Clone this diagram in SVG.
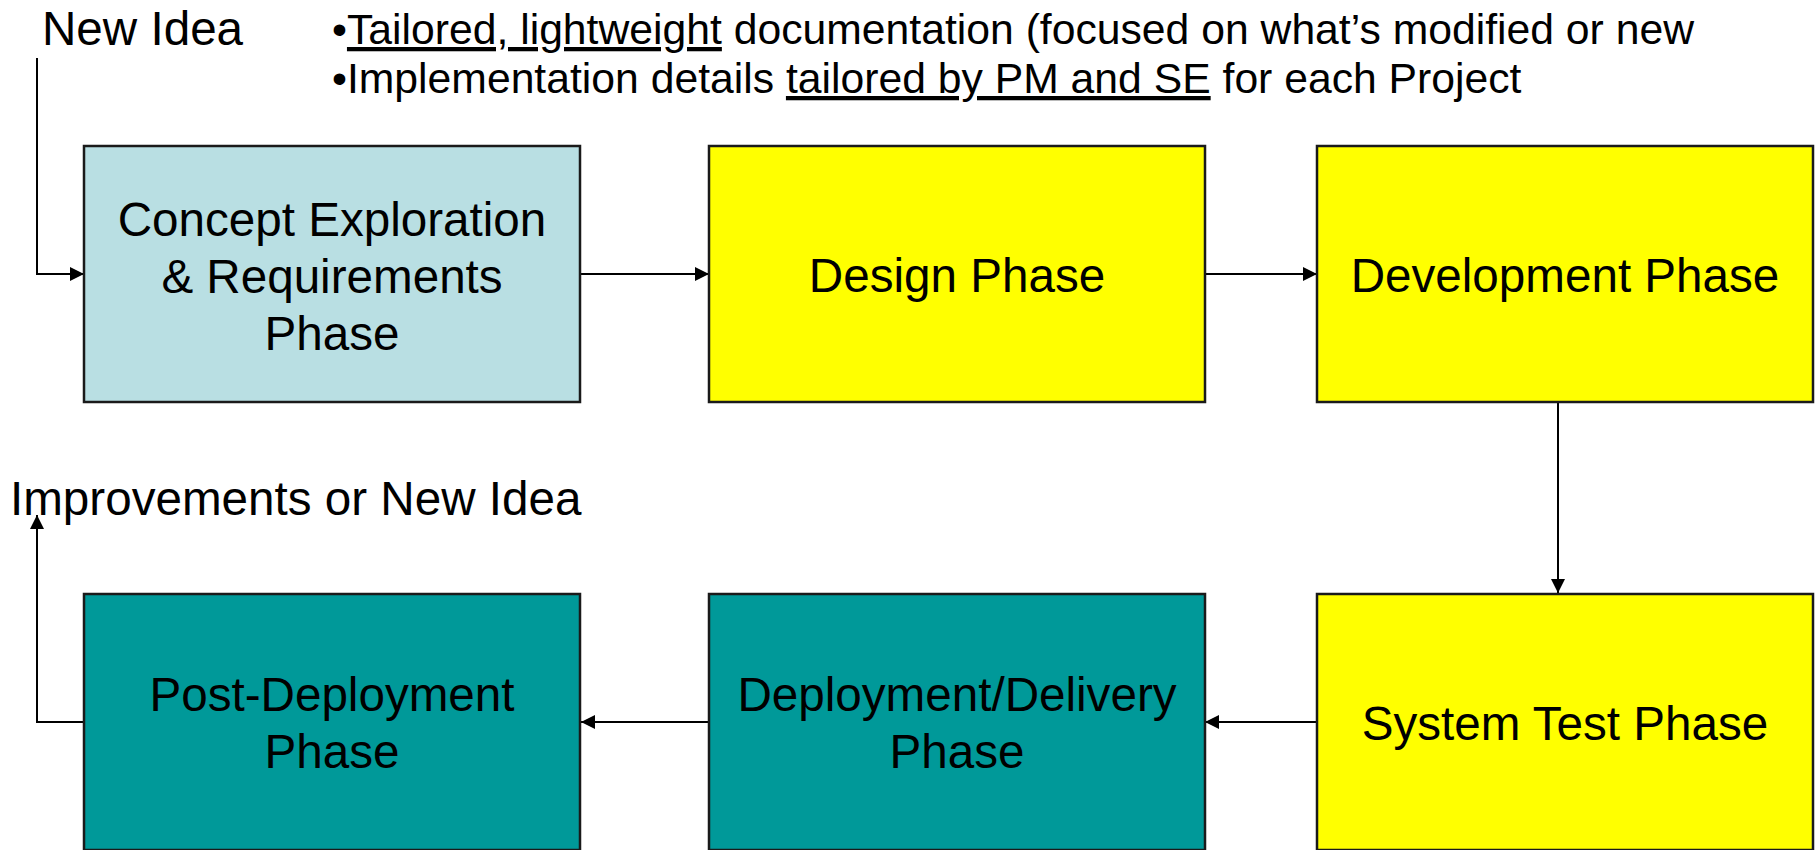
<svg xmlns="http://www.w3.org/2000/svg" width="1816" height="850" viewBox="0 0 1816 850">
  <style>
    text { font-family: "Liberation Sans", Arial, sans-serif; fill: #000; }
    .box { stroke: #1a1a1a; stroke-width: 2.5; }
    .concept { fill: #B9DFE3; }
    .build { fill: #FFFF00; }
    .deliver { fill: #009999; }
    .label { font-size: 47.6px; text-anchor: middle; }
    .note { font-size: 47.6px; }
    .bullet { font-size: 42.7px; }
    .u { text-decoration: underline; }
    .wire { fill: none; stroke: #000; stroke-width: 2; marker-end: url(#arrow); }
  </style>
  <defs>
    <marker id="arrow" viewBox="0 0 14 14" refX="14" refY="7" markerWidth="14" markerHeight="14" markerUnits="userSpaceOnUse" orient="auto">
      <path d="M0,0 L14,7 L0,14 Z" fill="#000"/>
    </marker>
  </defs>

  <rect width="1816" height="850" fill="#fff"/>

  <!-- free-standing annotations -->
  <text class="note" x="42" y="45">New Idea</text>
  <text class="bullet" x="332" y="44">•<tspan class="u">Tailored, lightweight</tspan> documentation (focused on what’s modified or new</text>
  <text class="bullet" x="332" y="93">•Implementation details <tspan class="u">tailored by PM and SE</tspan> for each Project</text>
  <text class="note" x="10" y="515">Improvements or New Idea</text>

  <!-- connectors -->
  <g id="connectors">
    <path class="wire" d="M37,58 V274 H84"/>
    <path class="wire" d="M580,274 H709"/>
    <path class="wire" d="M1205,274 H1317"/>
    <path class="wire" d="M1558,402 V593"/>
    <path class="wire" d="M1317,722 H1205"/>
    <path class="wire" d="M709,722 H581"/>
    <path class="wire" d="M84,722 H37 V515"/>
  </g>

  <!-- phases -->
  <g id="concept">
    <rect class="box concept" x="84" y="146" width="496" height="256"/>
    <text class="label" x="332" y="236">Concept Exploration</text>
    <text class="label" x="332" y="293">&amp; Requirements</text>
    <text class="label" x="332" y="350">Phase</text>
  </g>
  <g id="design">
    <rect class="box build" x="709" y="146" width="496" height="256"/>
    <text class="label" x="957" y="292">Design Phase</text>
  </g>
  <g id="development">
    <rect class="box build" x="1317" y="146" width="496" height="256"/>
    <text class="label" x="1565" y="292">Development Phase</text>
  </g>
  <g id="system-test">
    <rect class="box build" x="1317" y="594" width="496" height="256"/>
    <text class="label" x="1565" y="740">System Test Phase</text>
  </g>
  <g id="deployment">
    <rect class="box deliver" x="709" y="594" width="496" height="256"/>
    <text class="label" x="957" y="711">Deployment/Delivery</text>
    <text class="label" x="957" y="768">Phase</text>
  </g>
  <g id="post-deployment">
    <rect class="box deliver" x="84" y="594" width="496" height="256"/>
    <text class="label" x="332" y="711">Post-Deployment</text>
    <text class="label" x="332" y="768">Phase</text>
  </g>
</svg>
